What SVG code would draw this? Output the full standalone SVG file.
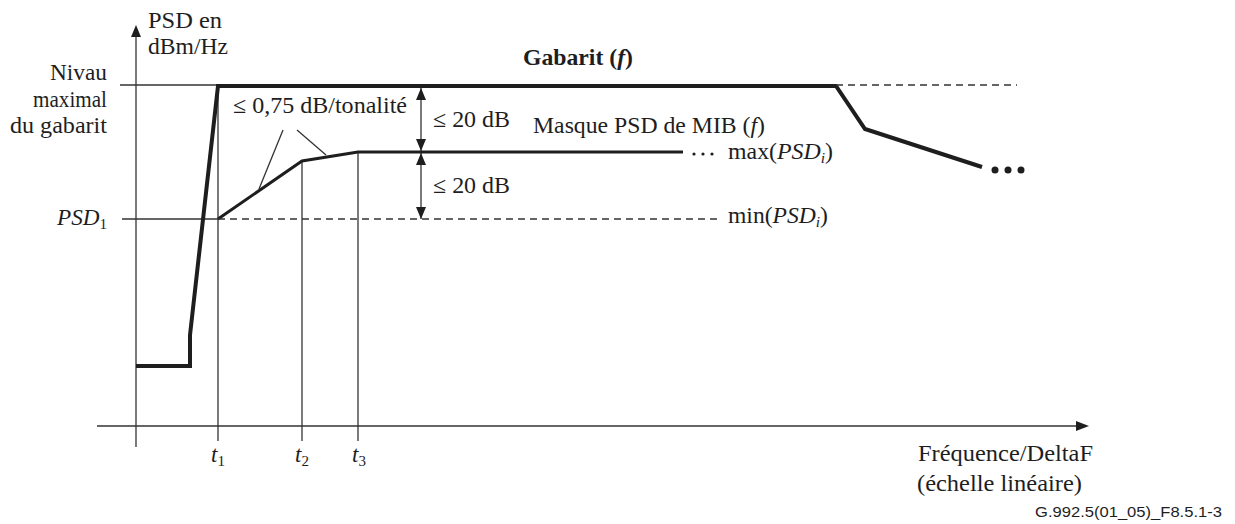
<svg xmlns="http://www.w3.org/2000/svg" width="1235" height="524" viewBox="0 0 1235 524">
<style>
text{font-family:"Liberation Serif","Times New Roman",serif;font-size:23px;fill:#1e1e1e}
.it{font-style:italic}
.sub{font-size:15px}
.thin{stroke:#333;stroke-width:1.3;fill:none}
.thick{stroke:#1e1e1e;stroke-width:4;fill:none;stroke-linejoin:miter}
.mask{stroke:#1e1e1e;stroke-width:3;fill:none}
.dash{stroke:#333;stroke-width:1.3;fill:none;stroke-dasharray:7 5}
.ref{font-family:"Liberation Sans",Arial,sans-serif;font-size:15px}
</style>
<defs>
<marker id="ah" markerWidth="12" markerHeight="10" refX="12" refY="5" orient="auto" markerUnits="userSpaceOnUse">
<path d="M0,0 L12,5 L0,10 Z" fill="#1e1e1e"/>
</marker>
</defs>
<rect width="1235" height="524" fill="#fff"/>
<g id="axes">
<line class="thin" x1="136" y1="447" x2="136" y2="37"/>
<path d="M131,37 L136,25 L141,37 Z" fill="#1e1e1e"/>
<line class="thin" x1="97" y1="426" x2="1077" y2="426"/>
<path d="M1076,421 L1089,426 L1076,431 Z" fill="#1e1e1e"/>
<text x="148" y="28" textLength="74" lengthAdjust="spacingAndGlyphs">PSD en</text>
<text x="148" y="54" textLength="80" lengthAdjust="spacingAndGlyphs">dBm/Hz</text>
<text x="50" y="80" textLength="57" lengthAdjust="spacingAndGlyphs">Nivau</text>
<text x="33" y="107" textLength="74" lengthAdjust="spacingAndGlyphs">maximal</text>
<text x="10" y="133" textLength="97" lengthAdjust="spacingAndGlyphs">du gabarit</text>
<text x="57" y="225" textLength="50" lengthAdjust="spacingAndGlyphs"><tspan class="it">PSD</tspan><tspan class="sub" dy="4">1</tspan></text>
<text x="918" y="461" textLength="175" lengthAdjust="spacingAndGlyphs">Fréquence/DeltaF</text>
<text x="917" y="491" textLength="165" lengthAdjust="spacingAndGlyphs">(échelle linéaire)</text>
<text class="ref" x="1035" y="517" textLength="187" lengthAdjust="spacingAndGlyphs">G.992.5(01_05)_F8.5.1-3</text>
</g>
<g id="ticks">
<line class="thin" x1="120" y1="85" x2="218" y2="85"/>
<line class="thin" x1="122" y1="219" x2="218" y2="219"/>
<line class="thin" x1="218" y1="86" x2="218" y2="441"/>
<line class="thin" x1="302" y1="161" x2="302" y2="441"/>
<line class="thin" x1="358" y1="152" x2="358" y2="441"/>
<text x="211" y="462"><tspan class="it">t</tspan><tspan class="sub" dy="4">1</tspan></text>
<text x="295" y="462"><tspan class="it">t</tspan><tspan class="sub" dy="4">2</tspan></text>
<text x="352" y="462"><tspan class="it">t</tspan><tspan class="sub" dy="4">3</tspan></text>
</g>
<g id="gabarit">
<polyline class="thick" points="136,366 190,366 190,335 218,86 836,86 865,129 982,167"/>
<line class="dash" x1="836" y1="85" x2="1017" y2="85"/>
<circle cx="995" cy="170" r="3.5" fill="#1e1e1e"/>
<circle cx="1008" cy="170" r="3.5" fill="#1e1e1e"/>
<circle cx="1021" cy="170" r="3.5" fill="#1e1e1e"/>
<text x="523" y="65" font-weight="bold" textLength="110" lengthAdjust="spacingAndGlyphs">Gabarit (<tspan class="it">f</tspan>)</text>
</g>
<g id="masque">
<polyline class="mask" points="218,219 302,161 358,152 683,152"/>
<line class="dash" x1="218" y1="219" x2="718" y2="219"/>
<circle cx="694" cy="154" r="1.6" fill="#1e1e1e"/>
<circle cx="703" cy="154" r="1.6" fill="#1e1e1e"/>
<circle cx="712" cy="154" r="1.6" fill="#1e1e1e"/>
<text x="533" y="133" textLength="232" lengthAdjust="spacingAndGlyphs">Masque PSD de MIB (<tspan class="it">f</tspan>)</text>
<text x="728" y="159" textLength="105" lengthAdjust="spacingAndGlyphs">max(<tspan class="it">PSD</tspan><tspan class="sub it" dy="4">i</tspan><tspan dy="-4">)</tspan></text>
<text x="728" y="223" textLength="100" lengthAdjust="spacingAndGlyphs">min(<tspan class="it">PSD</tspan><tspan class="sub it" dy="4">i</tspan><tspan dy="-4">)</tspan></text>
</g>
<g id="annotations">
<line class="thin" x1="283" y1="130" x2="259" y2="189"/>
<line class="thin" x1="297" y1="130" x2="326" y2="155"/>
<text x="233" y="113" textLength="174" lengthAdjust="spacingAndGlyphs">≤ 0,75 dB/tonalité</text>
<text x="433" y="127" textLength="77" lengthAdjust="spacingAndGlyphs">≤ 20 dB</text>
<text x="433" y="193" textLength="77" lengthAdjust="spacingAndGlyphs">≤ 20 dB</text>
</g>
<g id="connectors">
<line class="thin" x1="421" y1="119" x2="421" y2="88" marker-end="url(#ah)"/>
<line class="thin" x1="421" y1="119" x2="421" y2="151" marker-end="url(#ah)"/>
<line class="thin" x1="421" y1="186" x2="421" y2="153" marker-end="url(#ah)"/>
<line class="thin" x1="421" y1="186" x2="421" y2="219" marker-end="url(#ah)"/>
</g>
</svg>
